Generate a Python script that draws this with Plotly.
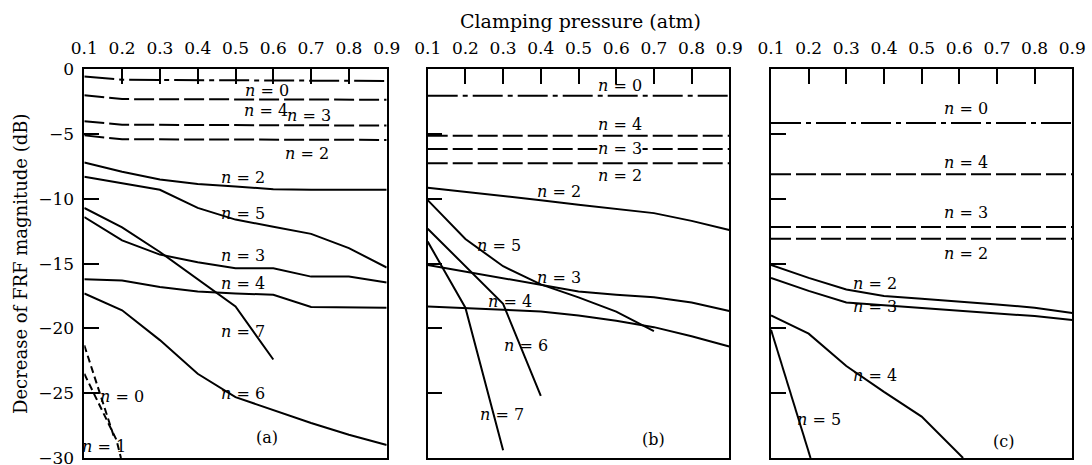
import plotly.graph_objects as go

# ---------------- data ----------------
x_ticks = [0.1, 0.2, 0.3, 0.4, 0.5, 0.6, 0.7, 0.8, 0.9]
x_ticktext = ["0.1", "0.2", "0.3", "0.4", "0.5", "0.6", "0.7", "0.8", "0.9"]
y_ticks = [0, -5, -10, -15, -20, -25, -30]
y_ticktext = ["0", "\u22125", "\u221210", "\u221215", "\u221220", "\u221225", "\u221230"]
P = [0.1, 0.2, 0.3, 0.4, 0.5, 0.6, 0.7, 0.8, 0.9]

# panel (a)
a_n0_dd_x = [0.1, 0.2, 0.5, 0.9]
a_n0_dd = [-0.55, -0.8, -0.85, -0.9]
a_n4_d_x = [0.1, 0.2, 0.9]
a_n4_d = [-2.0, -2.3, -2.35]
a_n3_d_x = [0.1, 0.2, 0.9]
a_n3_d = [-4.0, -4.28, -4.34]
a_n2_d_x = [0.1, 0.2, 0.9]
a_n2_d = [-5.1, -5.4, -5.45]
a_n2 = [-7.2, -7.9, -8.5, -8.85, -9.05, -9.25, -9.3, -9.3, -9.3]
a_n5 = [-8.3, -8.8, -9.3, -10.7, -11.6, -12.15, -12.7, -13.8, -15.3]
a_n7_x = [0.1, 0.2, 0.3, 0.4, 0.5, 0.6]
a_n7 = [-10.7, -12.2, -14.1, -16.2, -18.3, -22.4]
a_n3 = [-11.4, -13.2, -14.3, -14.9, -15.35, -15.35, -16.0, -16.0, -16.45]
a_n4 = [-16.2, -16.3, -16.8, -17.15, -17.3, -17.4, -18.35, -18.4, -18.4]
a_n6 = [-17.3, -18.6, -20.9, -23.5, -25.3, -26.3, -27.3, -28.2, -29.0]
a_n0_x = [0.1, 0.18]
a_n0 = [-21.3, -28.5]
a_n1_x = [0.1, 0.185, 0.197]
a_n1 = [-23.5, -28.6, -30.0]

# panel (b)
b_n0_dd = [-2.05] * 9
b_n4_d = [-5.13] * 9
b_n3_d = [-6.15] * 9
b_n2_d = [-7.26] * 9
b_n2 = [-9.15, -9.45, -9.8, -10.1, -10.45, -10.75, -11.1, -11.7, -12.4]
b_n5_x = [0.1, 0.2, 0.3, 0.4, 0.5, 0.6, 0.7]
b_n5 = [-10.1, -13.1, -15.2, -16.6, -17.6, -18.7, -20.2]
b_n6_x = [0.1, 0.2, 0.3, 0.4]
b_n6 = [-12.3, -15.2, -18.1, -25.2]
b_n7_x = [0.1, 0.2, 0.3]
b_n7 = [-13.3, -18.4, -29.4]
b_n3 = [-15.1, -15.6, -16.1, -16.65, -17.15, -17.4, -17.6, -18.0, -18.65]
b_n4 = [-18.3, -18.4, -18.55, -18.7, -19.0, -19.4, -19.9, -20.6, -21.4]

# panel (c)
c_n0_dd = [-4.15] * 9
c_n4_d = [-8.1] * 9
c_n3_d = [-12.18] * 9
c_n2_d = [-13.08] * 9
c_n2 = [-15.1, -16.1, -17.0, -17.5, -17.7, -17.9, -18.15, -18.4, -18.8]
c_n3 = [-16.1, -17.1, -18.0, -18.2, -18.4, -18.6, -18.8, -19.05, -19.35]
c_n4_x = [0.1, 0.2, 0.3, 0.4, 0.5, 0.6, 0.61]
c_n4 = [-19.0, -20.4, -22.9, -24.9, -26.8, -29.7, -30.0]
c_n5_x = [0.1, 0.205]
c_n5 = [-20.1, -30.0]

# ---------------- styles ----------------
SOLID = dict(color="black", width=2)
DASH = dict(color="black", width=2, dash="20px,5px")
DASHDOT = dict(color="black", width=2, dash="30px,5px,5px,5px")
SHORTDASH = dict(color="black", width=2, dash="7px,4px")

fig = go.Figure()


def add(x, y, line, ax):
    fig.add_trace(go.Scatter(x=x, y=y, mode="lines", line=line,
                             xaxis="x" + ax, yaxis="y" + ax,
                             showlegend=False, hoverinfo="skip"))


# panel a
add(a_n0_dd_x, a_n0_dd, DASHDOT, "")
add(a_n4_d_x, a_n4_d, DASH, "")
add(a_n3_d_x, a_n3_d, DASH, "")
add(a_n2_d_x, a_n2_d, DASH, "")
for s in [a_n2, a_n5, a_n3, a_n4, a_n6]:
    add(P, s, SOLID, "")
add(a_n7_x, a_n7, SOLID, "")
add(a_n0_x, a_n0, SHORTDASH, "")
add(a_n1_x, a_n1, SHORTDASH, "")

# panel b
add(P, b_n0_dd, DASHDOT, "2")
for s in [b_n4_d, b_n3_d, b_n2_d]:
    add(P, s, DASH, "2")
for s in [b_n2, b_n3, b_n4]:
    add(P, s, SOLID, "2")
add(b_n5_x, b_n5, SOLID, "2")
add(b_n6_x, b_n6, SOLID, "2")
add(b_n7_x, b_n7, SOLID, "2")

# panel c
add(P, c_n0_dd, DASHDOT, "3")
for s in [c_n4_d, c_n3_d, c_n2_d]:
    add(P, s, DASH, "3")
for s in [c_n2, c_n3]:
    add(P, s, SOLID, "3")
add(c_n4_x, c_n4, SOLID, "3")
add(c_n5_x, c_n5, SOLID, "3")

FONT = "DejaVu Serif"
W, H = 1092, 465
ytop = 1 - 69.3 / H
ybot = 1 - 458.0 / H
domains = [(84.3 / W, 386.7 / W), (427.7 / W, 729.3 / W), (771.0 / W, 1072.3 / W)]

axis_common = dict(showline=True, mirror=True, linecolor="black", linewidth=1.5,
                   showgrid=False, zeroline=False, ticks="inside", ticklen=15,
                   tickwidth=1.5, tickcolor="black", automargin=False,
                   ticklabeloverflow="allow",
                   tickfont=dict(family=FONT, size=17, color="black"))

layout = dict(width=W, height=H, autosize=False,
              margin=dict(l=0, r=0, t=0, b=0, pad=0, autoexpand=False),
              plot_bgcolor="white", paper_bgcolor="white", showlegend=False)
for i, (d0, d1) in enumerate(domains):
    sfx = "" if i == 0 else str(i + 1)
    layout["xaxis" + sfx] = dict(axis_common, domain=[d0, d1], range=[0.1, 0.9],
                                 side="top", tickvals=x_ticks, ticktext=x_ticktext,
                                 ticklabelstandoff=7, anchor="y" + sfx)
    layout["yaxis" + sfx] = dict(axis_common, domain=[ybot, ytop], range=[-30, 0],
                                 tickvals=y_ticks, ticktext=y_ticktext,
                                 ticklabelstandoff=5,
                                 showticklabels=(i == 0), anchor="x" + sfx)
fig.update_layout(**layout)

LF = dict(family=FONT, size=16, color="black")
labels = {
    "": [(0.584, -1.67, "n = 0"), (0.58, -3.2, "n = 4"), (0.695, -3.6, "n = 3"),
         (0.69, -6.5, "n = 2"), (0.52, -8.34, "n = 2"), (0.52, -11.15, "n = 5"),
         (0.52, -14.36, "n = 3"), (0.52, -16.54, "n = 4"), (0.52, -20.26, "n = 7"),
         (0.52, -25.0, "n = 6"), (0.199, -25.26, "n = 0"), (0.152, -29.1, "n = 1"),
         (0.584, -28.44, "(a)")],
    "2": [(0.61, -1.28, "n = 0"), (0.61, -4.23, "n = 4"), (0.61, -6.15, "n = 3"),
          (0.61, -8.2, "n = 2"), (0.447, -9.42, "n = 2"), (0.288, -13.6, "n = 5"),
          (0.447, -16.03, "n = 3"), (0.317, -17.95, "n = 4"), (0.36, -21.28, "n = 6"),
          (0.298, -26.67, "n = 7"), (0.699, -28.6, "(b)")],
    "3": [(0.618, -3.0, "n = 0"), (0.618, -7.18, "n = 4"), (0.618, -11.08, "n = 3"),
          (0.618, -14.23, "n = 2"), (0.376, -16.54, "n = 2"), (0.376, -18.34, "n = 3"),
          (0.376, -23.6, "n = 4"), (0.227, -27.05, "n = 5"), (0.716, -28.72, "(c)")],
}
for sfx, items in labels.items():
    for (x, y, t) in items:
        txt = t.replace("n", "<i>n</i>", 1) if t.startswith("n") else t
        bg = "white" if (sfx == "2" and t == "n = 3" and y > -10) else None
        fig.add_annotation(x=x, y=y, xref="x" + sfx, yref="y" + sfx, text=txt,
                           showarrow=False, font=LF, bgcolor=bg,
                           xanchor="center", yanchor="middle", borderpad=0)

fig.add_annotation(x=580 / W, y=1 - 20.7 / H, xref="paper", yref="paper",
                   xanchor="center", yanchor="middle",
                   text="Clamping pressure (atm)", showarrow=False,
                   font=dict(family=FONT, size=19, color="black"))
fig.add_annotation(x=20 / W, y=1 - 264 / H, xref="paper", yref="paper",
                   xanchor="center", yanchor="middle",
                   text="Decrease of FRF magnitude (dB)", textangle=-90,
                   showarrow=False, font=dict(family=FONT, size=18, color="black"))

fig.write_html("out.html")
